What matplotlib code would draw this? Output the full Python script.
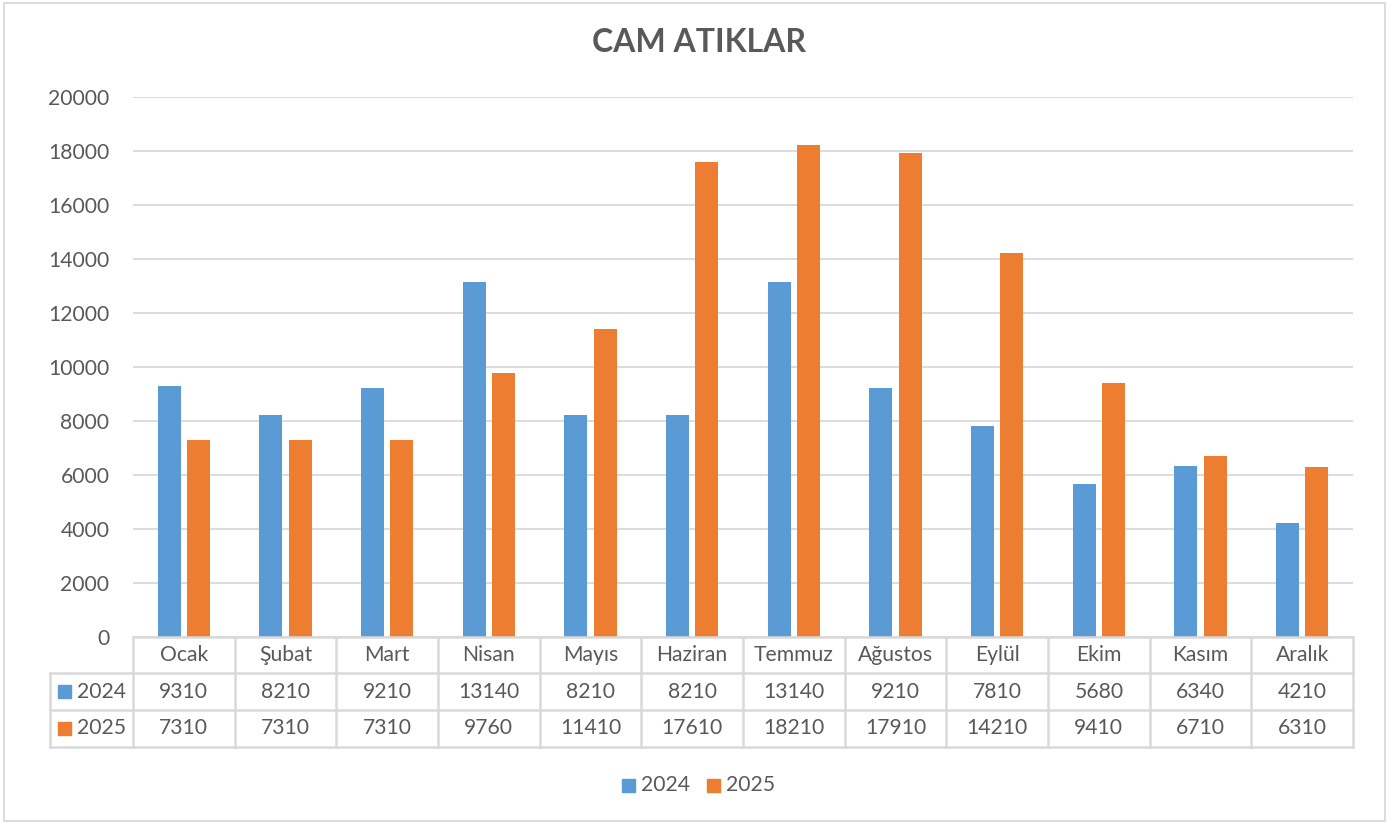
import matplotlib
matplotlib.use("Agg")
import matplotlib.pyplot as plt
from matplotlib.patches import Rectangle
from matplotlib.lines import Line2D
import matplotlib.transforms as mtransforms
import numpy as np

months = ["Ocak", "Şubat", "Mart", "Nisan", "Mayıs", "Haziran", "Temmuz",
          "Ağustos", "Eylül", "Ekim", "Kasım", "Aralık"]
series_names = ["2024", "2025"]
values_2024 = [9310, 8210, 9210, 13140, 8210, 8210, 13140, 9210, 7810, 5680, 6340, 4210]
values_2025 = [7310, 7310, 7310, 9760, 11410, 17610, 18210, 17910, 14210, 9410, 6710, 6310]
yticks = [0, 2000, 4000, 6000, 8000, 10000, 12000, 14000, 16000, 18000, 20000]
title = "CAM ATIKLAR"

colors = ["#5B9BD5", "#ED7D31"]
txt = "#595959"
grid = "#D9D9D9"
plt.rcParams['font.family'] = ['Lato', 'DejaVu Sans']
fs = 15.2

W, H = 1398, 825
fig = plt.figure(figsize=(W / 100, H / 100), dpi=100)

def fx(px):
    return px / W

def fy(py):
    return 1 - py / H

# outer border
fig.patches.append(Rectangle((fx(4), fy(821)), fx(1385) - fx(4), fy(3) - fy(821),
                             transform=fig.transFigure, fill=False, edgecolor=grid, lw=1.3))

left, right, top, bottom = 133, 1353, 97, 637
ax = fig.add_axes([fx(left), fy(bottom), fx(right) - fx(left), fy(top) - fy(bottom)])

x = np.arange(len(months))
bw = 0.226
off = 0.143
ax.bar(x - off, values_2024, bw, color=colors[0], zorder=3)
ax.bar(x + off, values_2025, bw, color=colors[1], zorder=3)
ax.set_xlim(-0.5, len(months) - 0.5)
ax.set_ylim(0, 20000)
ax.set_yticks(yticks)
ax.set_yticklabels([str(v) for v in yticks])
ax.tick_params(axis='y', length=0, pad=17, labelsize=fs, labelcolor=txt)
ax.tick_params(axis='x', length=0, labelbottom=False)
ax.grid(axis='y', color=grid, lw=1.3, zorder=0)
for s in ax.spines.values():
    s.set_visible(False)

fig.text(0.5, fy(43), title, ha='center', va='center', fontsize=23, fontweight='bold', color=txt)

# data table
row_y = [637, 673, 710, 747]
tl = 50
lkw = dict(color=grid, lw=1.8, transform=fig.transFigure)
fig.add_artist(Line2D([fx(left), fx(right)], [fy(row_y[0])] * 2, **lkw))
for ry in row_y[1:]:
    fig.add_artist(Line2D([fx(tl), fx(right)], [fy(ry)] * 2, **lkw))
fig.add_artist(Line2D([fx(tl), fx(tl)], [fy(row_y[1]), fy(row_y[3])], **lkw))
for i in range(len(months) + 1):
    px = left + (right - left) * i / len(months)
    fig.add_artist(Line2D([fx(px), fx(px)], [fy(row_y[0]), fy(row_y[3])], **lkw))

trans = mtransforms.blended_transform_factory(ax.transData, fig.transFigure)
rows = [values_2024, values_2025]
for i, m in enumerate(months):
    ax.text(i, fy((row_y[0] + row_y[1]) / 2), m, transform=trans, ha='center', va='center',
            fontsize=fs, color=txt, clip_on=False)
    for r, vals in enumerate(rows):
        yc = (row_y[r + 1] + row_y[r + 2]) / 2
        ax.text(i, fy(yc), str(vals[i]), transform=trans, ha='center', va='center',
                fontsize=fs, color=txt, clip_on=False)

sq = 13
for r, name in enumerate(series_names):
    yc = (row_y[r + 1] + row_y[r + 2]) / 2
    fig.patches.append(Rectangle((fx(58), fy(yc + sq / 2)), fx(58 + sq) - fx(58), fy(yc - sq / 2) - fy(yc + sq / 2),
                                 transform=fig.transFigure, color=colors[r]))
    fig.text(fx(77), fy(yc), name, ha='left', va='center', fontsize=fs, color=txt)

# legend
ly = 785
for r, (name, lx) in enumerate(zip(series_names, [622, 707])):
    fig.patches.append(Rectangle((fx(lx), fy(ly + sq / 2)), fx(lx + sq) - fx(lx), fy(ly - sq / 2) - fy(ly + sq / 2),
                                 transform=fig.transFigure, color=colors[r]))
    fig.text(fx(lx + 19), fy(ly), name, ha='left', va='center', fontsize=fs, color=txt)

fig.savefig("out.png", dpi=100)
